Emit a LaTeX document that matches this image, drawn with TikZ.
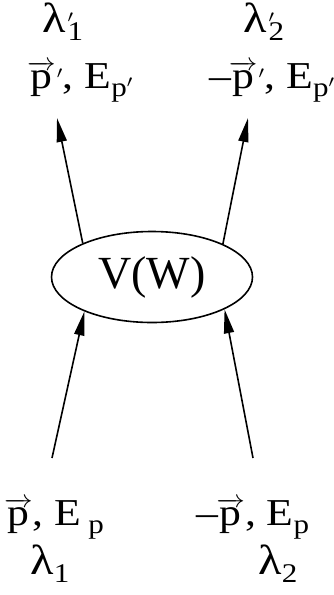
\documentclass[tikz,border=0pt]{standalone}
\usepackage{amsmath}
\usepackage{graphicx}
\usepackage{fontspec}
\setmainfont{Liberation Serif}
\usetikzlibrary{arrows.meta,shapes.geometric}
\newcommand\pvec{$\overrightarrow{\text{p}}$}
\newcommand\ssz{\fontsize{27}{28}\selectfont}
\newcommand\lo[1]{\raisebox{-0.22em}{\ssz #1}}
\newcommand\pr{{\ssz$^{\prime}$}}
\newcommand\lam{{\fontsize{42}{46}\selectfont λ}}
\newcommand\wide[1]{\scalebox{1.15}[1]{#1}}
\begin{document}
\begin{tikzpicture}[x=1pt,y=-1pt,
  lbl/.style={inner sep=0pt,anchor=base,font=\fontsize{38}{44}\selectfont},
  arr/.style={line width=1.6pt,-{Triangle[length=24pt,width=10pt]}},
  vbox/.style={draw,line width=1.6pt,ellipse,minimum width=201pt,minimum height=91pt,inner sep=0pt,font=\fontsize{46}{50}\selectfont}]
\useasboundingbox (0,0) rectangle (333,595);
\node[vbox] (V) at (152,277) {V(W)};
% top labels
\node[lbl] (tl1) at (63,32) {\wide{\lam\kern1pt\rlap{\pr}\lo{1}}};
\node[lbl] (tl2) at (80,88) {\wide{\pvec\kern1pt\pr, E\lo{p\pr}}};
\node[lbl] (tr1) at (264,32) {\wide{\lam\kern1pt\rlap{\pr}\lo{2}}};
\node[lbl] (tr2) at (272,88) {\wide{–\kern-2pt\pvec\kern1pt\pr, E\lo{p\pr}}};
% bottom labels
\node[lbl] (bl1) at (54,525) {\wide{\pvec, E\,\lo{p}}};
\node[lbl] (bl2) at (50,574) {\wide{\lam\lo{1}}};
\node[lbl] (br1) at (253,525) {\wide{–\kern-2pt\pvec, E\lo{p}}};
\node[lbl] (br2) at (278,574) {\wide{\lam\lo{2}}};
% free ends
\coordinate (tlend) at (57,118);
\coordinate (trend) at (248,118);
\coordinate (blst) at (52,458);
\coordinate (brst) at (253,458);
\draw[arr] (V.154) -- (tlend);
\draw[arr] (V.25) -- (trend);
\draw[arr] (blst) -- (V.207);
\draw[arr] (brst) -- (V.336);
\end{tikzpicture}
\end{document}
